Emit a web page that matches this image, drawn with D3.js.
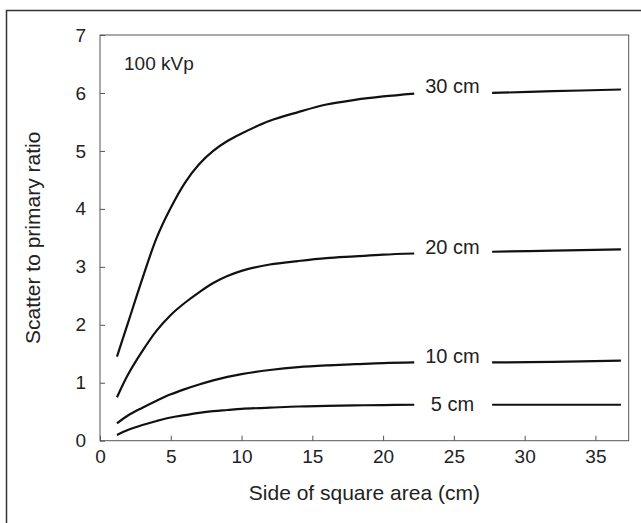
<!DOCTYPE html>
<html>
<head>
<meta charset="utf-8">
<script src="https://cdn.jsdelivr.net/npm/d3@7"></script>
<style>
  body { margin: 0; background: #fff; }
  text { font-family: "Liberation Sans", Arial, sans-serif; fill: #222; }
</style>
</head>
<body>
<div id="chart"></div>
<script>
// Data
const depthLabels = ['30 cm', '20 cm', '10 cm', '5 cm']
const labelY = [6.12, 3.35, 1.47, 0.63]   // label centre, in ratio units
const labelX = 24.9

// left part of each curve (before the label gap)
const sideLeft = [1.2, 2, 3, 4, 5, 6, 7, 8, 9, 10, 12, 14, 16, 18, 20, 22.2]
const ratio30Left = [1.45, 2.05, 2.8, 3.5, 4.02, 4.45, 4.77, 5.0, 5.17, 5.3, 5.52, 5.67, 5.8, 5.88, 5.94, 5.99]
const ratio20Left = [0.75, 1.15, 1.55, 1.9, 2.17, 2.38, 2.56, 2.72, 2.84, 2.93, 3.04, 3.1, 3.15, 3.18, 3.21, 3.23]
const ratio10Left = [0.3, 0.44, 0.57, 0.69, 0.8, 0.89, 0.97, 1.04, 1.1, 1.15, 1.22, 1.27, 1.3, 1.32, 1.34, 1.35]
const ratio5Left = [0.1, 0.19, 0.27, 0.34, 0.4, 0.44, 0.48, 0.51, 0.53, 0.55, 0.57, 0.59, 0.6, 0.61, 0.615, 0.62]

// right part (after the label)
const sideRight = [27.7, 32, 36.8]
const ratio30Right = [6.0, 6.03, 6.06]
const ratio20Right = [3.26, 3.28, 3.3]
const ratio10Right = [1.35, 1.36, 1.38]
const ratio5Right = [0.62, 0.62, 0.62]

const xTicks = [0, 5, 10, 15, 20, 25, 30, 35]
const yTicks = [0, 1, 2, 3, 4, 5, 6, 7]

// Dimensions
const dimensions = {
  width: 641,
  height: 523,
  left: 100,
  top: 35,
  right: 628.7,
  bottom: 440.7
}

const svg = d3.select('#chart')
  .append('svg')
  .attr('width', dimensions.width)
  .attr('height', dimensions.height)

// outer frame: only top and left edges show
svg.append('path')
  .attr('d', `M6.5,${dimensions.height} V10.5 H${dimensions.width}`)
  .attr('fill', 'none')
  .attr('stroke', '#333')
  .attr('stroke-width', 1.5)

// Scales
const xScale = d3.scaleLinear()
  .domain([0, 37.35])
  .range([dimensions.left, dimensions.right])

const yScale = d3.scaleLinear()
  .domain([0, 7])
  .range([dimensions.bottom, dimensions.top])

// plot box
svg.append('rect')
  .attr('x', dimensions.left)
  .attr('y', dimensions.top)
  .attr('width', dimensions.right - dimensions.left)
  .attr('height', dimensions.bottom - dimensions.top)
  .attr('fill', 'none')
  .attr('stroke', '#555')
  .attr('stroke-width', 1)

// Axes - ticks point inward
const xAxis = d3.axisBottom(xScale)
  .tickValues(xTicks)
  .tickFormat(d3.format('d'))
  .tickSize(-5)
  .tickPadding(9)
const yAxis = d3.axisLeft(yScale)
  .tickValues(yTicks)
  .tickFormat(d3.format('d'))
  .tickSize(-5)
  .tickPadding(14)

const xAxisGroup = svg.append('g')
  .attr('transform', `translate(0, ${dimensions.bottom})`)
  .call(xAxis)
const yAxisGroup = svg.append('g')
  .attr('transform', `translate(${dimensions.left}, 0)`)
  .call(yAxis)

;[xAxisGroup, yAxisGroup].forEach(g => {
  g.select('.domain').remove()
  g.selectAll('line').attr('stroke', '#555')
  g.selectAll('text').attr('font-size', 19).attr('fill', '#222')
})

// Curves
const line = d3.line()
  .x(d => xScale(d[0]))
  .y(d => yScale(d[1]))
  .curve(d3.curveCatmullRom.alpha(0.5))

const leftSeries = [ratio30Left, ratio20Left, ratio10Left, ratio5Left]
const rightSeries = [ratio30Right, ratio20Right, ratio10Right, ratio5Right]

const segments = []
leftSeries.forEach(s => segments.push(d3.zip(sideLeft, s)))
rightSeries.forEach(s => segments.push(d3.zip(sideRight, s)))

svg.append('g')
  .selectAll('path')
  .data(segments)
  .join('path')
  .attr('d', line)
  .attr('fill', 'none')
  .attr('stroke', '#111')
  .attr('stroke-width', 2.2)

// depth labels sit in the gap
svg.append('g')
  .selectAll('text')
  .data(depthLabels)
  .join('text')
  .attr('x', xScale(labelX))
  .attr('y', (d, i) => yScale(labelY[i]))
  .attr('text-anchor', 'middle')
  .attr('dominant-baseline', 'central')
  .attr('font-size', 20)
  .text(d => d)

svg.append('text')
  .attr('x', 124)
  .attr('y', 63)
  .attr('dominant-baseline', 'central')
  .attr('font-size', 19)
  .text('100 kVp')

// axis titles
svg.append('text')
  .attr('x', (dimensions.left + dimensions.right) / 2)
  .attr('y', 500)
  .attr('text-anchor', 'middle')
  .attr('font-size', 21)
  .text('Side of square area (cm)')

svg.append('text')
  .attr('transform', `translate(40, ${(dimensions.top + dimensions.bottom) / 2}) rotate(-90)`)
  .attr('text-anchor', 'middle')
  .attr('font-size', 21)
  .text('Scatter to primary ratio')
</script>
</body>
</html>
